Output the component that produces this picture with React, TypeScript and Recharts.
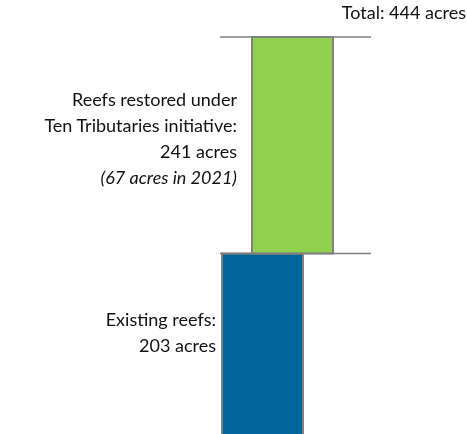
import React from 'react';
import { BarChart, Bar, XAxis, YAxis, ReferenceLine } from 'recharts';

// ---- data ----
const categories = ['Existing reefs', 'Reefs restored'];
const existingAcres = 203;
const restoredAcres = 241;
const restored2021Acres = 67;
const totalAcres = existingAcres + restoredAcres;

const existingLabelLines = ['Existing reefs:', `${existingAcres} acres`];
const restoredLabelLines = ['Reefs restored under', 'Ten Tributaries initiative:', `${restoredAcres} acres`];
const restoredNote = `(${restored2021Acres} acres in 2021)`;
const totalLabel = `Total: ${totalAcres} acres`;

const data = [
  {
    name: categories.join(' / '),
    existing: [0, existingAcres],
    restored: [existingAcres, totalAcres],
  },
];

// ---- styles ----
const FONT = 'Lato, "Open Sans", sans-serif';
const FONT_SIZE = 18;
const TEXT_COLOR = '#111111';
const BLUE = '#006699';
const GREEN = '#92D050';
const GRAY = '#808080';

const ExistingLabel = (props: any) => {
  const { x, y } = props;
  return (
    <g>
      {existingLabelLines.map((t, i) => (
        <text key={i} x={x - 6} y={y + 72 + i * 26} textAnchor="end" fontFamily={FONT} fontSize={FONT_SIZE} fill={TEXT_COLOR}>
          {t}
        </text>
      ))}
    </g>
  );
};

const RestoredLabel = (props: any) => {
  const { x, y } = props;
  return (
    <g>
      {restoredLabelLines.map((t, i) => (
        <text key={i} x={x - 15} y={y + 69 + i * 26} textAnchor="end" fontFamily={FONT} fontSize={FONT_SIZE} fill={TEXT_COLOR}>
          {t}
        </text>
      ))}
      <text x={x - 15} y={y + 69 + 3 * 26} textAnchor="end" fontFamily={FONT} fontSize={FONT_SIZE} fontStyle="italic" fill={TEXT_COLOR}>
        {restoredNote}
      </text>
    </g>
  );
};

const TotalLabel = (props: any) => {
  const vb = props.viewBox || {};
  const right = (vb.x || 0) + (vb.width || 0);
  return (
    <text x={right + 95} y={(vb.y || 0) - 18} textAnchor="end" fontFamily={FONT} fontSize={FONT_SIZE} fill={TEXT_COLOR}>
      {totalLabel}
    </text>
  );
};

export default function App() {
  return (
    <div style={{ position: 'fixed', left: 0, top: 0, width: 467, height: 434, overflow: 'hidden' }}>
      <BarChart
        width={467}
        height={442}
        data={data}
        margin={{ top: 37, right: 96, bottom: 6, left: 220 }}
        style={{ overflow: 'visible' }}
      >
        <XAxis xAxisId="a" dataKey="name" type="category" hide padding={{ left: 0, right: 66 }} />
        <XAxis xAxisId="b" dataKey="name" type="category" hide padding={{ left: 30, right: 36 }} />
        <YAxis hide domain={[0, totalAcres]} />
        <ReferenceLine xAxisId="a" y={totalAcres} stroke={GRAY} strokeWidth={1.5} ifOverflow="visible" label={<TotalLabel />} />
        <ReferenceLine xAxisId="a" y={existingAcres} stroke={GRAY} strokeWidth={1.5} ifOverflow="visible" />
        <Bar xAxisId="a" dataKey="existing" fill={BLUE} stroke={GRAY} strokeWidth={2} barSize={81} isAnimationActive={false} label={<ExistingLabel />} />
        <Bar xAxisId="b" dataKey="restored" fill={GREEN} stroke={GRAY} strokeWidth={2} barSize={81} isAnimationActive={false} label={<RestoredLabel />} />
      </BarChart>
    </div>
  );
}
